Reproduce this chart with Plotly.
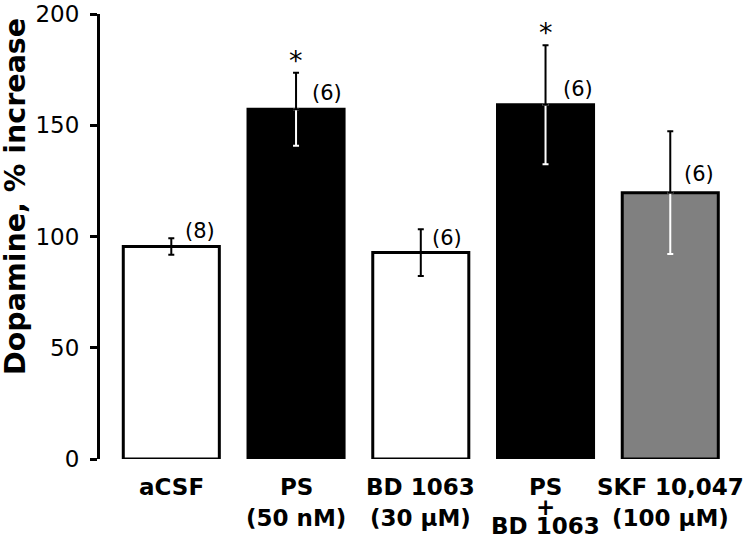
import plotly.graph_objects as go

# ---- data ----
categories = ["aCSF", "PS", "BD 1063", "PS + BD 1063", "SKF 10,047"]
tick_lines = [["aCSF"], ["PS", "(50 nM)"], ["BD 1063", "(30 μM)"], ["PS", "+", "BD 1063"], ["SKF 10,047", "(100 μM)"]]
means = [95.5, 157.2, 92.8, 159.2, 119.7]
sems = [3.7, 16.4, 10.5, 26.7, 27.6]
n_labels = ["(8)", "(6)", "(6)", "(6)", "(6)"]
significant = [False, True, False, True, False]
bar_colors = ["white", "black", "white", "black", "#808080"]
lower_err_colors = ["black", "white", "black", "white", "white"]
y_ticks = [0, 50, 100, 150, 200]

# label placement (layout constants)
n_label_dx = [0.23, 0.25, 0.21, 0.26, 0.23]
n_label_y = [102.5, 164.7, 99.2, 166.3, 128.1]

FONT = "DejaVu Sans"
x = list(range(len(categories)))

fig = go.Figure()
fig.add_trace(go.Bar(
    x=x, y=means, width=0.77,
    marker=dict(color=bar_colors, line=dict(color="black", width=3)),
    hoverinfo="skip", showlegend=False,
))

# lower halves of error bars (colour depends on bar)
for col in sorted(set(lower_err_colors)):
    idx = [i for i, c in enumerate(lower_err_colors) if c == col]
    fig.add_trace(go.Scatter(
        x=[x[i] for i in idx], y=[means[i] for i in idx], mode="markers",
        marker=dict(size=0.1, color="rgba(0,0,0,0)"),
        error_y=dict(type="data", symmetric=False,
                     array=[0] * len(idx), arrayminus=[sems[i] for i in idx],
                     color=col, thickness=2, width=3),
        hoverinfo="skip", showlegend=False,
    ))

# upper halves (black)
fig.add_trace(go.Scatter(
    x=x, y=means, mode="markers",
    marker=dict(size=0.1, color="rgba(0,0,0,0)"),
    error_y=dict(type="data", symmetric=False, array=sems, arrayminus=[0] * len(x),
                 color="black", thickness=2, width=3),
    hoverinfo="skip", showlegend=False,
))

annotations = []
for i in x:
    annotations.append(dict(x=x[i] + n_label_dx[i], y=n_label_y[i], xref="x", yref="y",
                            text=n_labels[i], showarrow=False, xanchor="center", yanchor="middle",
                            font=dict(family=FONT, size=21, color="black")))
    if significant[i]:
        annotations.append(dict(x=x[i], y=means[i] + sems[i], xref="x", yref="y",
                                text="*", showarrow=False, xanchor="center", yanchor="bottom",
                                yshift=-5, font=dict(family=FONT, size=27, color="black")))
    # category labels
    lines = tick_lines[i]
    if len(lines) == 3:
        offsets = [-28, -48, -67]
    else:
        offsets = [-28, -59][:len(lines)]
    for ln, off in zip(lines, offsets):
        annotations.append(dict(x=x[i], y=0, xref="x", yref="y", text=f"<b>{ln}</b>",
                                showarrow=False, xanchor="center", yanchor="middle", yshift=off,
                                font=dict(family=FONT, size=23, color="black")))

annotations.append(dict(x=-0.133, y=0.591, xref="paper", yref="paper",
                        text="<b>Dopamine, % increase</b>", textangle=-90, showarrow=False,
                        xanchor="center", yanchor="middle",
                        font=dict(family=FONT, size=28.5, color="black")))

fig.update_layout(
    width=756, height=539,
    margin=dict(l=100, r=16, t=14, b=80, autoexpand=False),
    paper_bgcolor="white", plot_bgcolor="white",
    annotations=annotations,
    xaxis=dict(range=[-0.5716, 4.559], showgrid=False, zeroline=False, showline=False,
               showticklabels=False, ticks="", fixedrange=True),
    yaxis=dict(range=[0, 200], tickvals=y_ticks, ticks="outside", ticklen=7, tickwidth=3,
               tickcolor="black", showline=True, linewidth=3, linecolor="black",
               showgrid=False, zeroline=False, ticklabelstandoff=6, fixedrange=True,
               tickfont=dict(family=FONT, size=23, color="black")),
)

# remove the default 8px page margin so the figure fills the window exactly
fig.write_html("out.html", config={"displayModeBar": False, "staticPlot": True},
               post_script="document.body.style.margin='0';document.body.style.overflow='hidden';")
